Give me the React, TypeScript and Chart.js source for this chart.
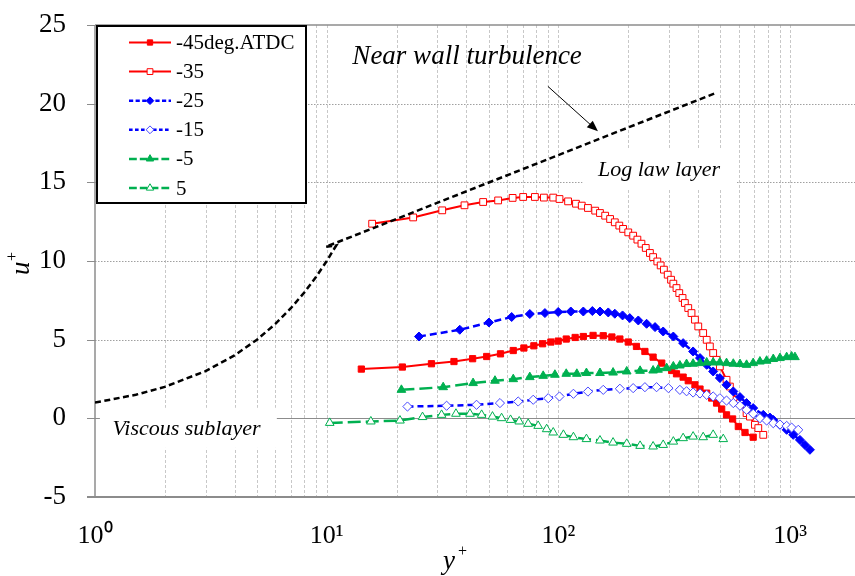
import React, { useEffect, useRef } from 'react';
import { Chart, registerables } from 'chart.js';

Chart.register(...registerables);

const SERIF = '"Liberation Serif", "Times New Roman", serif';

// axes
const xMin = 1;
const xMax = 2000;
const xTickValues = [1, 10, 100, 1000];
const xTickLabels = ['10⁰', '10¹', '10²', '10³'];
const yTickValues = [-5, 0, 5, 10, 15, 20, 25];
const yGridDotted = [5, 10, 15, 20];

// series labels
const seriesLabels = ['-45deg.ATDC', '-35', '-25', '-15', '-5', '5'];

// -45deg.ATDC
const yPlus45 = [14.1, 21.2, 28.3, 35.4, 42.6, 49.0, 56.2, 63.8, 70.9, 78.3, 85.4, 92.7, 99.7, 108, 118, 128, 141, 156, 170, 184, 200, 217, 236, 256, 279, 308, 323, 345, 363, 388, 408, 436, 458, 481, 506, 531, 564, 597, 638, 692];
const uPlus45 = [3.13, 3.26, 3.47, 3.61, 3.79, 3.93, 4.10, 4.31, 4.47, 4.61, 4.74, 4.85, 4.91, 5.04, 5.14, 5.20, 5.27, 5.25, 5.17, 5.04, 4.85, 4.57, 4.25, 3.89, 3.51, 3.04, 2.83, 2.62, 2.39, 2.13, 1.86, 1.60, 1.29, 0.97, 0.59, 0.22, -0.04, -0.52, -0.90, -1.20];

// -35
const yPlus35 = [15.7, 23.6, 31.5, 39.3, 47.3, 54.9, 63.4, 70.4, 79.1, 86.5, 94.9, 101, 110, 119, 126, 134, 144, 151, 159, 167, 175, 183, 190, 200, 210, 219, 228, 238, 248, 256, 267, 276, 285, 296, 306, 313, 323, 332, 343, 351, 363, 375, 388, 401, 421, 436, 450, 465, 481, 497, 531, 549, 587, 607, 648, 670, 704, 728, 765];
const uPlus35 = [12.37, 12.77, 13.22, 13.54, 13.75, 13.85, 14.01, 14.07, 14.07, 14.03, 14.03, 13.94, 13.79, 13.64, 13.52, 13.37, 13.20, 13.05, 12.88, 12.67, 12.46, 12.25, 12.04, 11.82, 11.61, 11.36, 11.10, 10.83, 10.51, 10.25, 9.97, 9.72, 9.45, 9.13, 8.81, 8.56, 8.28, 7.96, 7.65, 7.33, 7.01, 6.69, 6.27, 5.84, 5.42, 4.99, 4.57, 4.15, 3.72, 3.30, 2.45, 2.02, 1.18, 0.97, 0.33, 0.11, -0.41, -0.62, -1.05];

// -25
const yPlus25 = [25.0, 37.5, 50.1, 62.8, 75.2, 87.4, 99.7, 113, 128, 140, 151, 164, 175, 189, 203, 221, 240, 261, 283, 313, 345, 381, 408, 436, 465, 497, 531, 568, 607, 648, 692, 765, 817, 845, 903, 965, 1030, 1101, 1157, 1216];
const uPlus25 = [5.20, 5.63, 6.09, 6.44, 6.63, 6.69, 6.76, 6.79, 6.79, 6.82, 6.79, 6.73, 6.65, 6.54, 6.37, 6.22, 6.01, 5.80, 5.52, 5.20, 4.78, 4.25, 3.83, 3.40, 2.98, 2.56, 2.13, 1.71, 1.35, 0.97, 0.65, 0.22, 0.05, -0.10, -0.41, -0.73, -1.05, -1.37, -1.69, -2.00];

// -15
const yPlus15 = [22.3, 32.9, 44.3, 55.9, 67.0, 77.8, 90.3, 101, 116, 134, 156, 184, 210, 236, 265, 298, 334, 357, 381, 408, 436, 465, 497, 531, 568, 607, 648, 692, 740, 791, 845, 903, 965, 1014, 1083];
const uPlus15 = [0.75, 0.80, 0.86, 0.97, 1.07, 1.18, 1.28, 1.39, 1.56, 1.70, 1.81, 1.88, 1.92, 1.98, 1.98, 1.92, 1.81, 1.72, 1.64, 1.58, 1.49, 1.39, 1.28, 1.13, 0.97, 0.80, 0.54, 0.29, 0.01, -0.14, -0.31, -0.39, -0.48, -0.59, -0.73];

// -5
const yPlusM5 = [21.0, 31.8, 42.8, 53.2, 63.8, 75.2, 85.9, 96.5, 108, 120, 132, 151, 172, 197, 225, 256, 269, 293, 313, 334, 357, 381, 408, 436, 465, 497, 531, 568, 607, 648, 692, 740, 791, 845, 903, 965, 1014, 1048];
const uPlusM5 = [1.81, 1.98, 2.24, 2.39, 2.49, 2.62, 2.70, 2.77, 2.83, 2.83, 2.88, 2.88, 2.91, 2.98, 3.02, 3.04, 3.09, 3.19, 3.30, 3.36, 3.45, 3.47, 3.51, 3.55, 3.55, 3.55, 3.51, 3.47, 3.45, 3.40, 3.51, 3.61, 3.66, 3.77, 3.83, 3.89, 3.93, 3.89];

// 5
const yPlusP5 = [10.3, 15.5, 20.7, 25.9, 31.3, 36.1, 41.5, 46.6, 51.9, 56.8, 62.1, 67.7, 74.0, 81.7, 88.9, 94.9, 105, 116, 132, 151, 172, 197, 225, 256, 283, 313, 345, 381, 421, 465, 514];
const uPlusP5 = [-0.29, -0.20, -0.14, 0.08, 0.22, 0.29, 0.29, 0.22, 0.11, 0.01, -0.10, -0.20, -0.35, -0.48, -0.69, -0.90, -1.05, -1.20, -1.32, -1.41, -1.54, -1.62, -1.75, -1.79, -1.69, -1.48, -1.26, -1.16, -1.20, -1.05, -1.32];

// reference line (viscous sublayer + log law)
const yPlusRef = [1, 1.5, 2, 3, 4, 5, 6, 7, 8, 9, 10, 11, 9.9, 481];
const uPlusRef = [1, 1.5, 2, 3, 4, 5, 6, 7, 8, 9, 10, 11, 10.9, 20.7];

// annotations (data coordinates)
const nearWallLabel = { text: 'Near wall turbulence', x: 12.9, y: 22.49 };
const arrowFrom = { x: 90, y: 21.1 };
const arrowTo = { x: 148, y: 18.24 };
const logLawLabel = { text: 'Log law layer', x: 148, y: 15.38, box: [127, 588, 17.08, 14.54] };
const viscousLabel = { text: 'Viscous sublayer', x: 1.19, y: -1.05, box: [1.05, 6.09, 0.67, -1.88] };

const RED = '#ff0000';
const BLUE = '#0000ff';
const GREEN = '#00b050';

type Style = {
  color: string; dash: number[]; width: number; shape: 'rect' | 'rectRot' | 'triangle';
  radius: number; fill: string; mborder: string; mwidth: number;
};
const styles: Style[] = [
  { color: RED, dash: [], width: 2, shape: 'rect', radius: 4.4, fill: RED, mborder: RED, mwidth: 1 },
  { color: RED, dash: [], width: 2, shape: 'rect', radius: 4.8, fill: '#ffffff', mborder: RED, mwidth: 1 },
  { color: BLUE, dash: [7, 4], width: 2.5, shape: 'rectRot', radius: 4.5, fill: BLUE, mborder: BLUE, mwidth: 1 },
  { color: BLUE, dash: [6, 4], width: 2.5, shape: 'rectRot', radius: 4.6, fill: '#ffffff', mborder: '#4848ff', mwidth: 1 },
  { color: GREEN, dash: [13, 5], width: 2.5, shape: 'triangle', radius: 5, fill: GREEN, mborder: GREEN, mwidth: 1 },
  { color: GREEN, dash: [13, 5], width: 2.5, shape: 'triangle', radius: 5, fill: '#ffffff', mborder: GREEN, mwidth: 1 },
];

const xs = [yPlus45, yPlus35, yPlus25, yPlus15, yPlusM5, yPlusP5];
const ys = [uPlus45, uPlus35, uPlus25, uPlus15, uPlusM5, uPlusP5];

function pts(a: number[], b: number[]) {
  return a.map((v, i) => ({ x: v, y: b[i] }));
}

function drawMarker(ctx: CanvasRenderingContext2D, s: Style, x: number, y: number) {
  ctx.save();
  ctx.setLineDash([]);
  ctx.fillStyle = s.fill;
  ctx.strokeStyle = s.mborder;
  ctx.lineWidth = s.mwidth;
  ctx.beginPath();
  const r = s.radius;
  if (s.shape === 'rect') {
    const h = r * Math.SQRT1_2;
    ctx.rect(x - h, y - h, 2 * h, 2 * h);
  } else if (s.shape === 'rectRot') {
    ctx.moveTo(x, y - r); ctx.lineTo(x + r, y); ctx.lineTo(x, y + r); ctx.lineTo(x - r, y); ctx.closePath();
  } else {
    for (let k = 0; k < 3; k++) {
      const a = (k * 2 * Math.PI) / 3;
      const px = x + Math.sin(a) * r;
      const py = y - Math.cos(a) * r;
      if (k === 0) ctx.moveTo(px, py); else ctx.lineTo(px, py);
    }
    ctx.closePath();
  }
  ctx.fill();
  ctx.stroke();
  ctx.restore();
}

const decorPlugin = {
  id: 'decor',
  beforeDatasetsDraw(chart: any) {
    const { ctx, chartArea: a, scales } = chart;
    const x = scales.x;
    const y = scales.y;
    ctx.save();
    // vertical log grid
    ctx.strokeStyle = '#c8c8c8';
    ctx.lineWidth = 1;
    ctx.setLineDash([3, 2]);
    for (let d = 1; d <= 1000; d *= 10) {
      for (let m = 1; m <= 9; m++) {
        const v = m * d;
        if (v <= 1 || v > 1000) continue;
        const px = Math.round(x.getPixelForValue(v)) + 0.5;
        ctx.beginPath(); ctx.moveTo(px, a.top); ctx.lineTo(px, a.bottom); ctx.stroke();
      }
    }
    // horizontal dotted grid
    ctx.strokeStyle = '#a0a0a0';
    ctx.setLineDash([1.5, 1.5]);
    for (const v of yGridDotted) {
      const py = Math.round(y.getPixelForValue(v)) + 0.5;
      ctx.beginPath(); ctx.moveTo(a.left, py); ctx.lineTo(a.right, py); ctx.stroke();
    }
    ctx.setLineDash([]);
    // zero line + y tick marks
    ctx.strokeStyle = '#8c8c8c';
    ctx.lineWidth = 1;
    const p0 = Math.round(y.getPixelForValue(0)) + 0.5;
    ctx.beginPath(); ctx.moveTo(a.left, p0); ctx.lineTo(a.right, p0); ctx.stroke();
    for (const v of yTickValues) {
      const py = Math.round(y.getPixelForValue(v)) + 0.5;
      ctx.beginPath(); ctx.moveTo(a.left - 8, py); ctx.lineTo(a.left, py); ctx.stroke();
    }
    // top border
    ctx.lineWidth = 1.5;
    ctx.beginPath(); ctx.moveTo(a.left, a.top); ctx.lineTo(a.right, a.top); ctx.stroke();
    // axes
    ctx.lineWidth = 1.5;
    ctx.beginPath(); ctx.moveTo(a.left, a.top); ctx.lineTo(a.left, a.bottom); ctx.stroke();
    ctx.lineWidth = 2;
    ctx.beginPath(); ctx.moveTo(a.left - 8, a.bottom); ctx.lineTo(a.right, a.bottom); ctx.stroke();

    // annotation boxes + text
    ctx.fillStyle = '#ffffff';
    for (const lab of [logLawLabel, viscousLabel]) {
      const [x0, x1, y0, y1] = lab.box;
      const l = x.getPixelForValue(x0), r = x.getPixelForValue(x1);
      const t = y.getPixelForValue(y0), b = y.getPixelForValue(y1);
      ctx.fillRect(l, t, r - l, b - t);
    }
    ctx.fillStyle = '#000000';
    ctx.textBaseline = 'alphabetic';
    ctx.textAlign = 'left';
    ctx.font = `italic 22px ${SERIF}`;
    ctx.fillText(logLawLabel.text, x.getPixelForValue(logLawLabel.x), y.getPixelForValue(logLawLabel.y));
    ctx.fillText(viscousLabel.text, x.getPixelForValue(viscousLabel.x), y.getPixelForValue(viscousLabel.y));
    ctx.font = `italic 27px ${SERIF}`;
    ctx.fillText(nearWallLabel.text, x.getPixelForValue(nearWallLabel.x), y.getPixelForValue(nearWallLabel.y));

    // arrow
    const ax0 = x.getPixelForValue(arrowFrom.x), ay0 = y.getPixelForValue(arrowFrom.y);
    const ax1 = x.getPixelForValue(arrowTo.x), ay1 = y.getPixelForValue(arrowTo.y);
    const ang = Math.atan2(ay1 - ay0, ax1 - ax0);
    ctx.strokeStyle = '#000000';
    ctx.lineWidth = 1;
    ctx.beginPath(); ctx.moveTo(ax0, ay0);
    ctx.lineTo(ax1 - Math.cos(ang) * 8, ay1 - Math.sin(ang) * 8); ctx.stroke();
    ctx.beginPath();
    ctx.moveTo(ax1, ay1);
    ctx.lineTo(ax1 - Math.cos(ang) * 11 + Math.sin(ang) * 4.5, ay1 - Math.sin(ang) * 11 - Math.cos(ang) * 4.5);
    ctx.lineTo(ax1 - Math.cos(ang) * 11 - Math.sin(ang) * 4.5, ay1 - Math.sin(ang) * 11 + Math.cos(ang) * 4.5);
    ctx.closePath();
    ctx.fill();

    // axis titles
    ctx.font = `italic 27px ${SERIF}`;
    ctx.fillText('y', 443, 569);
    ctx.font = `16px ${SERIF}`;
    ctx.fillText('+', 458, 556);
    ctx.save();
    ctx.translate(29, 275);
    ctx.rotate(-Math.PI / 2);
    ctx.font = `italic 27px ${SERIF}`;
    ctx.fillText('u', 0, 0);
    ctx.font = `16px ${SERIF}`;
    ctx.fillText('+', 14, -12);
    ctx.restore();
    ctx.restore();
  },
  afterDatasetsDraw(chart: any) {
    const { ctx, chartArea: a } = chart;
    ctx.save();
    const bl = a.left + 2, bt = a.top + 1, bw = 209, bh = 177;
    ctx.fillStyle = '#ffffff';
    ctx.fillRect(bl, bt, bw, bh);
    ctx.strokeStyle = '#000000';
    ctx.lineWidth = 2;
    ctx.strokeRect(bl, bt, bw, bh);
    ctx.font = `21px ${SERIF}`;
    ctx.textBaseline = 'middle';
    ctx.fillStyle = '#000000';
    seriesLabels.forEach((lab, i) => {
      const s = styles[i];
      const cy = a.top + 17.5 + i * 29.1;
      ctx.save();
      ctx.strokeStyle = s.color;
      ctx.lineWidth = s.width;
      ctx.setLineDash(s.dash.length ? [s.dash[0] * 0.6, s.dash[1] * 0.6] : []);
      ctx.beginPath(); ctx.moveTo(a.left + 34, cy); ctx.lineTo(a.left + 76, cy); ctx.stroke();
      ctx.restore();
      drawMarker(ctx, { ...s, radius: s.radius * 0.85 }, a.left + 55, cy);
      ctx.fillStyle = '#000000';
      ctx.fillText(lab, a.left + 81, cy + 1);
    });
    ctx.restore();
  },
};

export default function App() {
  const ref = useRef<HTMLCanvasElement | null>(null);
  useEffect(() => {
    if (!ref.current) return;
    const datasets: any[] = seriesLabels.map((lab, i) => {
      const s = styles[i];
      return {
        label: lab,
        data: pts(xs[i], ys[i]),
        showLine: true,
        borderColor: s.color,
        borderWidth: s.width,
        borderDash: s.dash,
        pointStyle: s.shape,
        pointRadius: s.radius,
        pointBackgroundColor: s.fill,
        pointBorderColor: s.mborder,
        pointBorderWidth: s.mwidth,
        order: 10 - i,
        tension: 0,
      };
    });
    datasets.push({
      label: 'reference',
      data: pts(yPlusRef, uPlusRef),
      showLine: true,
      borderColor: '#000000',
      borderWidth: 2.5,
      borderDash: [6, 3.5],
      pointRadius: 0,
      order: 0,
      tension: 0,
    });
    const chart = new Chart(ref.current, {
      type: 'scatter',
      data: { datasets },
      plugins: [decorPlugin],
      options: {
        responsive: false,
        animation: false,
        events: [],
        layout: { padding: { top: 25, right: 10, left: 0, bottom: 0 } },
        plugins: { legend: { display: false }, tooltip: { enabled: false } },
        scales: {
          x: {
            type: 'logarithmic',
            min: xMin,
            max: xMax,
            afterBuildTicks: (s: any) => { s.ticks = xTickValues.map((v) => ({ value: v })); },
            afterFit: (s: any) => { s.height = 79; s.paddingLeft = 0; s.paddingRight = 0; },
            grid: { display: false },
            border: { display: false },
            ticks: {
              autoSkip: false,
              maxRotation: 0,
              padding: 16,
              color: '#000000',
              font: { family: SERIF, size: 26 },
              callback: (v: any) => {
                const i = xTickValues.indexOf(Number(v));
                return i >= 0 ? xTickLabels[i] : '';
              },
            },
          },
          y: {
            type: 'linear',
            min: -5,
            max: 25,
            afterBuildTicks: (s: any) => { s.ticks = yTickValues.map((v) => ({ value: v })); },
            afterFit: (s: any) => { s.width = 95; s.paddingTop = 0; s.paddingBottom = 0; },
            grid: { display: false },
            border: { display: false },
            ticks: {
              padding: 21,
              color: '#000000',
              font: { family: SERIF, size: 27 },
            },
          },
        },
      },
    } as any);
    return () => chart.destroy();
  }, []);
  return (
    <canvas
      ref={ref}
      width={870}
      height={576}
      style={{ position: 'fixed', left: 0, top: 0, width: 870, height: 576, background: '#ffffff' }}
    />
  );
}
